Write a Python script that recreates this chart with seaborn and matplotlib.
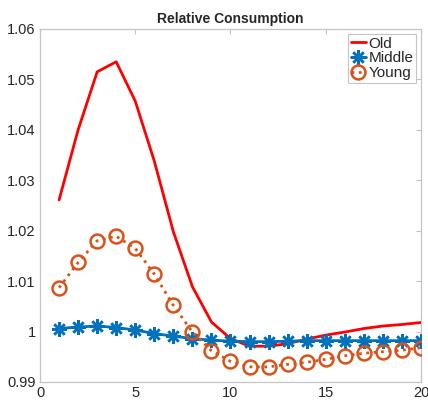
import matplotlib
matplotlib.use("Agg")
import matplotlib.pyplot as plt
import seaborn as sns
import pandas as pd

# Relative consumption by age group over the horizon
periods = list(range(1, 21))
old = [1.0261, 1.0400, 1.0515, 1.0535, 1.0457, 1.0338, 1.0198, 1.0089, 1.0019, 0.9986,
       0.9971, 0.9971, 0.9976, 0.9985, 0.9993, 0.9999, 1.0006, 1.0011, 1.0014, 1.0018]
middle = [1.0006, 1.0009, 1.0011, 1.0008, 1.0003, 0.9996, 0.9991, 0.9986, 0.9983, 0.9981,
          0.9980, 0.9980, 0.9981, 0.9982, 0.9982, 0.9982, 0.9982, 0.9982, 0.9982, 0.9982]
young = [1.0087, 1.0137, 1.0180, 1.0189, 1.0165, 1.0114, 1.0052, 0.9999, 0.9962, 0.9941,
         0.9930, 0.9930, 0.9935, 0.9939, 0.9945, 0.9952, 0.9957, 0.9960, 0.9963, 0.9968]

x_ticks = [0, 5, 10, 15, 20]
y_ticks = [0.99, 1.0, 1.01, 1.02, 1.03, 1.04, 1.05, 1.06]
y_labels = ["0.99", "1", "1.01", "1.02", "1.03", "1.04", "1.05", "1.06"]

df = pd.DataFrame({"t": periods, "Old": old, "Middle": middle, "Young": young})

sns.set_style("white")
plt.rcParams["font.family"] = ["Liberation Sans", "DejaVu Sans"]

fig = plt.figure(figsize=(4.28, 4.01), dpi=100)
ax = fig.add_axes([0.0935, 0.0474, 0.8901, 0.8803])

red = "#FF0000"
blue = "#0072BD"
orange = "#D95319"

sns.lineplot(data=df, x="t", y="Old", ax=ax, color=red, linewidth=2.0,
             label="Old", zorder=3)
sns.lineplot(data=df, x="t", y="Middle", ax=ax, color=blue, linewidth=2.0,
             marker=(8, 2, 0), markersize=10.5, markeredgewidth=1.8,
             markeredgecolor=blue, label="Middle", zorder=4)
sns.lineplot(data=df, x="t", y="Young", ax=ax, color=orange, linewidth=2.0,
             linestyle=":", marker="o", markersize=10, markerfacecolor="none",
             markeredgewidth=1.8, markeredgecolor=orange, label="Young", zorder=5)

ax.set_xlim(0, 20)
ax.set_ylim(0.99, 1.06)
ax.set_xticks(x_ticks)
ax.set_xticklabels([str(v) for v in x_ticks])
ax.set_yticks(y_ticks)
ax.set_yticklabels(y_labels)
ax.set_xlabel("")
ax.set_ylabel("")

spine_color = "#c4c4c4"
for s in ax.spines.values():
    s.set_visible(True)
    s.set_color(spine_color)
    s.set_linewidth(0.9)
ax.tick_params(direction="in", length=3.5, width=0.8, color=spine_color,
               top=True, right=True, labelsize=10.5, labelcolor="#262626", pad=3)

ax.set_title("Relative Consumption", fontsize=10, fontweight="bold", pad=4)

leg = ax.legend(loc="upper right", fontsize=11, handlelength=1.0,
                handletextpad=0.15, borderpad=0.2, labelspacing=0.05,
                borderaxespad=0.3, fancybox=False, framealpha=1)
leg.get_frame().set_edgecolor("#c4c4c4")
leg.get_frame().set_linewidth(0.8)

fig.savefig("out.png", dpi=100)
